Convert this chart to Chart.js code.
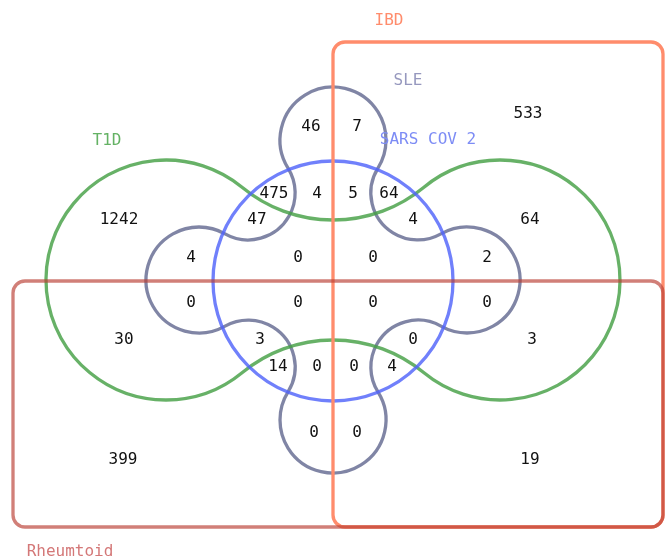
<!DOCTYPE html>
<html><head><meta charset="utf-8">
<script src="https://cdn.jsdelivr.net/npm/chart.js@4"></script>
<style>html,body{margin:0;padding:0;background:#fff}canvas{display:block}</style>
</head><body>
<canvas id="c" width="665" height="560"></canvas>
<script>
// ---- data ----
const setNames = ['IBD', 'SLE', 'SARS COV 2', 'T1D', 'Rheumtoid'];
const regionCounts = [533, 46, 7, 475, 4, 5, 64, 1242, 47, 4, 64, 4, 0, 0, 2, 0, 0, 0, 0, 30, 3, 0, 3, 14, 0, 0, 4, 0, 0, 399, 19];

// ---- layout (anchors of the texts, in chart units) ----
const regionAnchors = [[528,114],[311,127],[357,127],[274,194],[317,194],[353,194],[389,194],[119,220],[257,220],[413,220],[530,220],[191,258],[298,258],[373,258],[487,258],[191,303],[298,303],[373,303],[487,303],[124,340],[260,340],[413,340],[532,340],[278,367],[317,367],[354,367],[392,367],[314,433],[357,433],[123,460],[530,460]];
const setLabelAnchors = [[389,21],[408,81],[428,140],[107,141],[70,552]];
const setColors = ['rgb(255,140,108)', 'rgb(150,152,190)', 'rgb(125,140,245)', 'rgb(100,178,100)', 'rgb(212,120,120)'];

const FONT = '16px "DejaVu Sans Mono", "Liberation Mono", monospace';

const geom = {
  ibd: {x0:333, y0:42, x1:663, y1:527, r:12},
  rheum: {x0:13, y0:281, x1:663, y1:527, r:12},
  sars: {cx:333, cy:281, r:120},
  t1d: {lobes:[[166,280],[500,280]], r:120, mid:60},
  sle: {bulbs:[[333,140],[467,280],[333,420],[199,280]], r:53, link:47, o:[333,280]}
};

function roundRect(ctx, x0, y0, x1, y1, r) {
  ctx.beginPath();
  ctx.moveTo(x0 + r, y0);
  ctx.arcTo(x1, y0, x1, y1, r);
  ctx.arcTo(x1, y1, x0, y1, r);
  ctx.arcTo(x0, y1, x0, y0, r);
  ctx.arcTo(x0, y0, x1, y0, r);
  ctx.closePath();
}
function connector(P, Q, rp, rq, Rc, O) {
  const d1 = rp + Rc, d2 = rq + Rc;
  const dx = Q[0]-P[0], dy = Q[1]-P[1], d = Math.hypot(dx, dy);
  const a = (d1*d1 - d2*d2 + d*d) / (2*d);
  const h = Math.sqrt(Math.max(0, d1*d1 - a*a));
  const mx = P[0] + a*dx/d, my = P[1] + a*dy/d;
  const c1 = [mx + h*dy/d, my - h*dx/d], c2 = [mx - h*dy/d, my + h*dx/d];
  return Math.hypot(c1[0]-O[0], c1[1]-O[1]) > Math.hypot(c2[0]-O[0], c2[1]-O[1]) ? c1 : c2;
}
const ang = (from, to) => Math.atan2(to[1]-from[1], to[0]-from[0]);

const shapesPlugin = {
  id: 'vennShapes',
  beforeDatasetsDraw(chart) {
    const ctx = chart.ctx, sx = chart.scales.x, sy = chart.scales.y;
    const kx = sx.getPixelForValue(1) - sx.getPixelForValue(0);
    const ky = sy.getPixelForValue(1) - sy.getPixelForValue(0);
    ctx.save();
    ctx.translate(sx.getPixelForValue(0), sy.getPixelForValue(0));
    ctx.scale(kx, ky);
    ctx.lineWidth = 3.3 / kx;
    ctx.lineJoin = 'round';

    // SLE
    const s = geom.sle, B = s.bulbs, n = B.length, C = [];
    for (let i = 0; i < n; i++) C.push(connector(B[i], B[(i+1)%n], s.r, s.r, s.link, s.o));
    ctx.beginPath();
    for (let i = 0; i < n; i++) {
      const prevC = C[(i+n-1)%n], nextC = C[i];
      ctx.arc(B[i][0], B[i][1], s.r, ang(B[i], prevC), ang(B[i], nextC), false);
      ctx.arc(nextC[0], nextC[1], s.link, ang(nextC, B[i]), ang(nextC, B[(i+1)%n]), true);
    }
    ctx.closePath();
    ctx.strokeStyle = 'rgba(100,106,145,0.82)';
    ctx.stroke();

    // T1D
    const t = geom.t1d, L = t.lobes[0], R = t.lobes[1];
    const dx = (R[0]-L[0]) / 2, cxm = (R[0]+L[0]) / 2, cym = L[1];
    const k = t.r - t.mid;
    const h = (dx*dx - k*k) / (2*k), Rc = h - t.mid;
    const Ct = [cxm, cym - h], Cb = [cxm, cym + h];
    ctx.beginPath();
    ctx.arc(L[0], L[1], t.r, ang(L, Ct), ang(L, Cb), true);
    ctx.arc(Cb[0], Cb[1], Rc, ang(Cb, L), ang(Cb, R), false);
    ctx.arc(R[0], R[1], t.r, ang(R, Cb), ang(R, Ct), true);
    ctx.arc(Ct[0], Ct[1], Rc, ang(Ct, R), ang(Ct, L), false);
    ctx.closePath();
    ctx.strokeStyle = 'rgba(70,160,70,0.82)';
    ctx.stroke();

    // SARS COV 2
    const c = geom.sars;
    ctx.beginPath();
    ctx.arc(c.cx, c.cy, c.r, 0, Math.PI*2);
    ctx.strokeStyle = 'rgba(80,100,250,0.82)';
    ctx.stroke();

    // IBD
    const a = geom.ibd;
    roundRect(ctx, a.x0, a.y0, a.x1, a.y1, a.r);
    ctx.strokeStyle = 'rgb(255,140,108)';
    ctx.stroke();

    // Rheumatoid
    const b = geom.rheum;
    roundRect(ctx, b.x0, b.y0, b.x1, b.y1, b.r);
    ctx.strokeStyle = 'rgba(185,60,50,0.66)';
    ctx.stroke();
    ctx.restore();
  },
  afterDatasetsDraw(chart) {
    const ctx = chart.ctx;
    ctx.save();
    ctx.font = FONT;
    ctx.textAlign = 'center';
    ctx.textBaseline = 'middle';
    const m0 = chart.getDatasetMeta(0);
    m0.data.forEach((el, i) => {
      ctx.fillStyle = '#111';
      ctx.fillText(String(chart.data.datasets[0].data[i].v), el.x, el.y);
    });
    const m1 = chart.getDatasetMeta(1);
    m1.data.forEach((el, i) => {
      ctx.fillStyle = setColors[i];
      ctx.fillText(chart.data.datasets[1].data[i].name, el.x, el.y);
    });
    ctx.restore();
  }
};

new Chart(document.getElementById('c'), {
  type: 'scatter',
  data: {
    datasets: [
      { data: regionAnchors.map((p, i) => ({x: p[0], y: p[1], v: regionCounts[i]})), pointRadius: 0 },
      { data: setLabelAnchors.map((p, i) => ({x: p[0], y: p[1], name: setNames[i]})), pointRadius: 0 }
    ]
  },
  options: {
    responsive: false,
    animation: false,
    layout: { padding: 0 },
    plugins: { legend: { display: false }, tooltip: { enabled: false } },
    scales: {
      x: { type: 'linear', min: 0, max: 665, display: false },
      y: { type: 'linear', min: 0, max: 560, reverse: true, display: false }
    }
  },
  plugins: [shapesPlugin]
});
</script>
</body></html>
